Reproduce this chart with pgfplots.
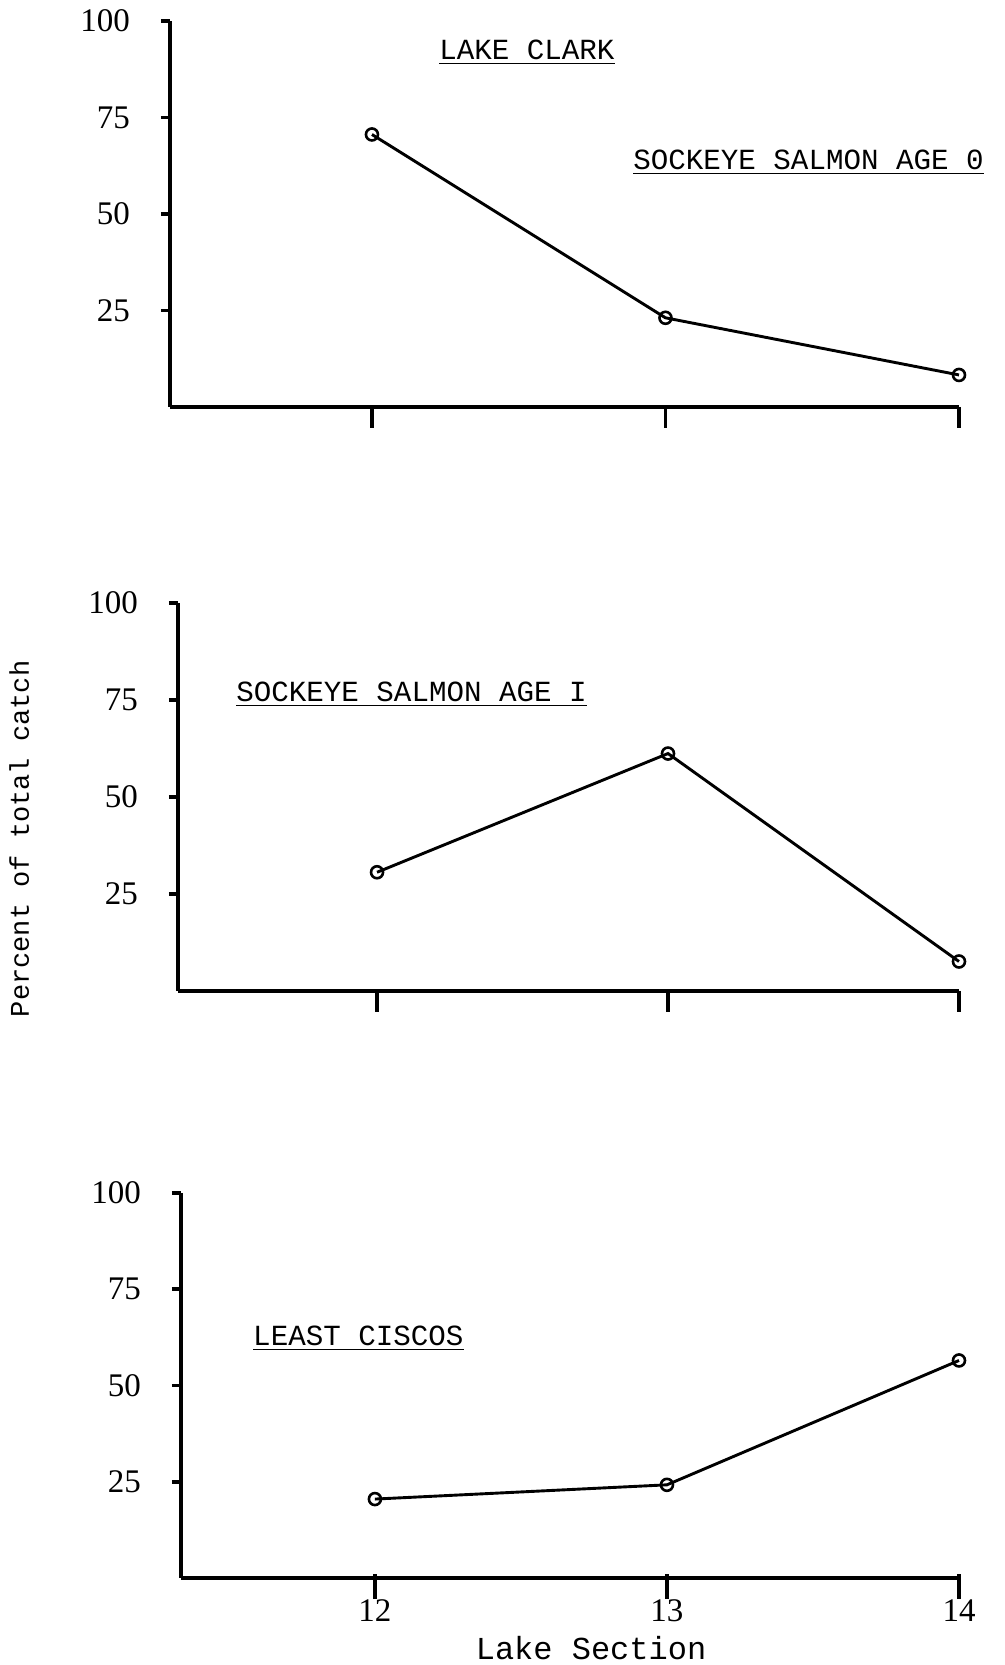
\documentclass[border=0pt]{standalone}
\usepackage{pgfplots}
\pgfplotsset{compat=1.18}
\usepackage{fontspec}
\setmainfont{Liberation Serif}
\newfontfamily\tw{Liberation Mono}

\pgfplotsset{
  panel/.style={
    scale only axis,
    axis lines=left,
    axis line style={line width=1.8pt,-},
    xmax=14, ymin=0, ymax=100,
    ytick={25,50,75,100},
    xtick={12,13,14},
    xtick style={draw=none},
    ytick style={line width=1.8pt, black},
    major tick length=4.5pt,
    tick align=outside,
    yticklabel style={font=\fontsize{16.5}{16.5}\selectfont, xshift=-12pt},
    xticklabel style={font=\fontsize{16.5}{16.5}\selectfont, yshift=-3pt},
    /pgf/number format/assume math mode=true,
    clip=false,
  },
  dataline/.style={line width=1.45pt, black, mark=o, mark size=3pt,
    mark options={fill=white, line width=1.3pt}},
  tickline/.style={line width=1.6pt, black, forget plot},
}
\tikzset{ttl/.style={font=\tw\fontsize{14.6}{14.6}\selectfont, inner sep=0pt}}

\begin{document}
\begin{tikzpicture}
\path[use as bounding box] (0,0) rectangle (502.5pt,832.5pt);

% Panel 1
\begin{axis}[panel, at={(85pt,629pt)}, anchor=south west,
  width=394.5pt, height=193pt, xmin=11.312, xticklabels={}]
\addplot[tickline] coordinates {(12,0) (12,-5.5)};
\addplot[tickline] coordinates {(13,0) (13,-5.5)};
\addplot[tickline] coordinates {(14,0) (14,-5.5)};
\addplot[dataline] coordinates {(12,70.6) (13,23.1) (14,8.3)};
\node[ttl, anchor=base west] at (axis cs:12.228,89.9) {\underline{LAKE CLARK}};
\node[ttl, anchor=base west] at (axis cs:12.889,61.4) {\underline{SOCKEYE SALMON AGE 0}};
\end{axis}

% Panel 2
\begin{axis}[panel, at={(89pt,337pt)}, anchor=south west,
  width=390.5pt, height=194pt, xmin=11.316, xticklabels={}]
\addplot[tickline] coordinates {(12,0) (12,-5.5)};
\addplot[tickline] coordinates {(13,0) (13,-5.5)};
\addplot[tickline] coordinates {(14,0) (14,-5.5)};
\addplot[dataline] coordinates {(12,30.6) (13,61.2) (14,7.6)};
\node[ttl, anchor=base west] at (axis cs:11.515,74.5) {\underline{SOCKEYE SALMON AGE I}};
\node[font=\tw\fontsize{13.5}{13.5}\selectfont, rotate=90, anchor=center]
  at (axis cs:10.77,39.2) {Percent of total catch};
\end{axis}

% Panel 3
\begin{axis}[panel, at={(90.5pt,43.5pt)}, anchor=south west,
  width=389pt, height=192.5pt, xmin=11.336]
\addplot[tickline] coordinates {(12,1) (12,-5.5)};
\addplot[tickline] coordinates {(13,1) (13,-5.5)};
\addplot[tickline] coordinates {(14,1) (14,-5.5)};
\addplot[dataline] coordinates {(12,20.5) (13,24.2) (14,56.5)};
\node[ttl, anchor=base west] at (axis cs:11.582,60.3) {\underline{LEAST CISCOS}};
\node[font=\tw\fontsize{16}{16}\selectfont, anchor=center]
  at (axis cs:12.74,-18.2) {Lake Section};
\end{axis}
\end{tikzpicture}
\end{document}
